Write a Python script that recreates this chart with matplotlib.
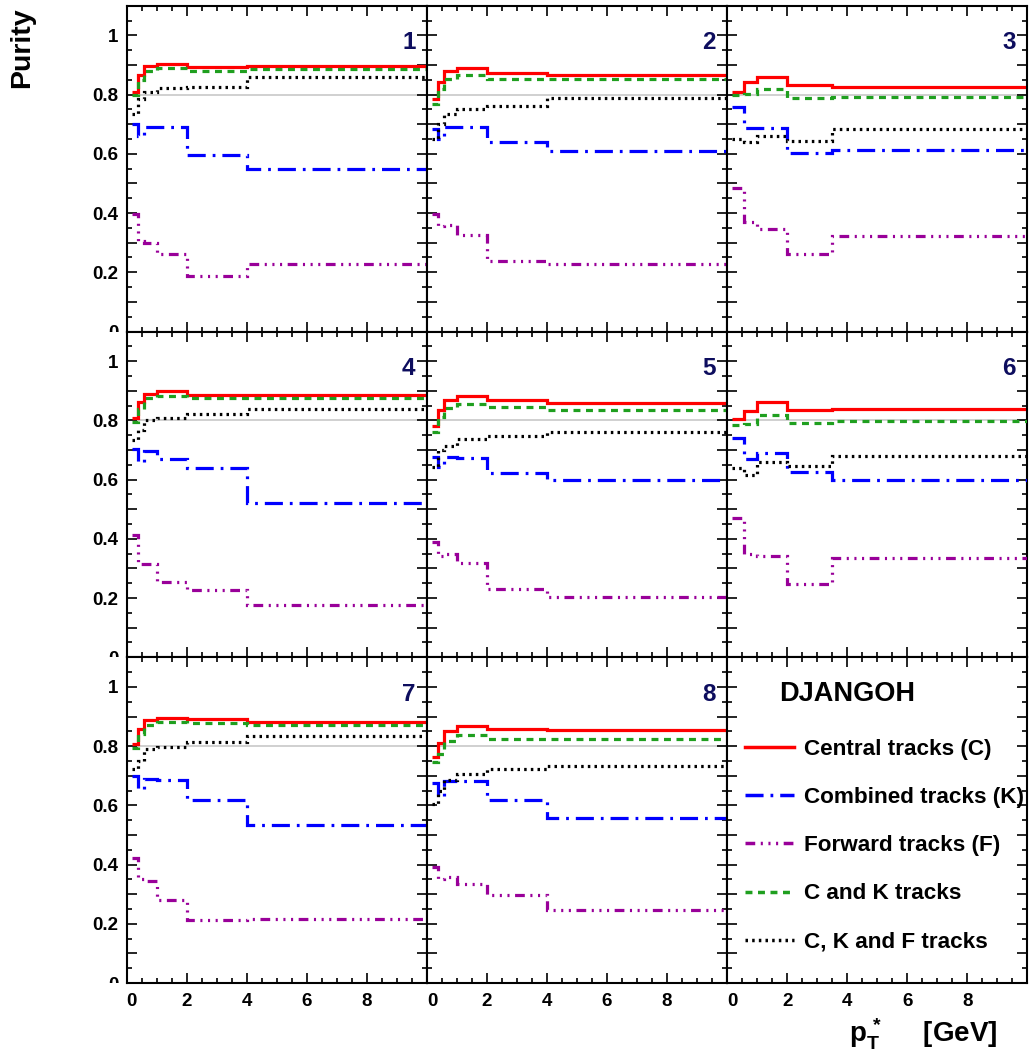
import matplotlib
matplotlib.use("Agg")
import matplotlib.pyplot as plt
from matplotlib.lines import Line2D
from matplotlib.ticker import MultipleLocator, FixedLocator, FixedFormatter
from matplotlib.transforms import Bbox, TransformedBbox

plt.rcParams["font.family"] = ["Liberation Sans", "DejaVu Sans"]
plt.rcParams["font.weight"] = "bold"
plt.rcParams["mathtext.fontset"] = "custom"
plt.rcParams["mathtext.rm"] = "Liberation Sans:bold"
plt.rcParams["mathtext.it"] = "Liberation Sans:bold"
plt.rcParams["mathtext.bf"] = "Liberation Sans:bold"
plt.rcParams["lines.scale_dashes"] = False

# bin edges in pT* [GeV]
edges_fine = [0.17, 0.37, 0.57, 1.0, 2.0, 4.0, 10.0]
edges_coarse = [0.17, 0.57, 1.0, 2.0, 3.5, 10.0]
panel_edges = [edges_fine, edges_fine, edges_coarse,
               edges_fine, edges_fine, edges_coarse,
               edges_fine, edges_fine]
panel_labels = ["1", "2", "3", "4", "5", "6", "7", "8"]

central = [
    [0.808, 0.867, 0.895, 0.904, 0.893, 0.897],
    [0.785, 0.844, 0.881, 0.891, 0.874, 0.866],
    [0.810, 0.844, 0.859, 0.833, 0.825],
    [0.808, 0.862, 0.890, 0.900, 0.887, 0.887],
    [0.780, 0.834, 0.870, 0.883, 0.868, 0.857],
    [0.806, 0.831, 0.861, 0.836, 0.840],
    [0.808, 0.859, 0.889, 0.896, 0.893, 0.881],
    [0.765, 0.810, 0.851, 0.868, 0.859, 0.853],
]
combined = [
    [0.701, 0.661, 0.690, 0.689, 0.597, 0.550],
    [0.684, 0.650, 0.690, 0.692, 0.641, 0.609],
    [0.759, 0.686, 0.686, 0.602, 0.614],
    [0.702, 0.659, 0.698, 0.670, 0.640, 0.521],
    [0.676, 0.642, 0.676, 0.673, 0.623, 0.597],
    [0.740, 0.670, 0.689, 0.627, 0.597],
    [0.700, 0.655, 0.689, 0.686, 0.618, 0.534],
    [0.675, 0.633, 0.684, 0.684, 0.618, 0.557],
]
forward = [
    [0.396, 0.305, 0.300, 0.263, 0.189, 0.229],
    [0.396, 0.356, 0.360, 0.326, 0.237, 0.229],
    [0.483, 0.370, 0.345, 0.263, 0.324],
    [0.414, 0.314, 0.314, 0.255, 0.226, 0.176],
    [0.390, 0.342, 0.350, 0.317, 0.232, 0.204],
    [0.472, 0.350, 0.342, 0.246, 0.334],
    [0.421, 0.350, 0.345, 0.282, 0.212, 0.215],
    [0.392, 0.350, 0.358, 0.335, 0.297, 0.248],
]
c_and_k = [
    [0.797, 0.848, 0.881, 0.891, 0.881, 0.887],
    [0.768, 0.820, 0.851, 0.867, 0.853, 0.853],
    [0.797, 0.802, 0.819, 0.788, 0.791],
    [0.794, 0.840, 0.874, 0.883, 0.874, 0.874],
    [0.761, 0.811, 0.842, 0.854, 0.845, 0.836],
    [0.783, 0.787, 0.817, 0.791, 0.798],
    [0.794, 0.842, 0.870, 0.881, 0.878, 0.872],
    [0.748, 0.774, 0.817, 0.836, 0.825, 0.824],
]
c_k_f = [
    [0.735, 0.785, 0.810, 0.823, 0.825, 0.859],
    [0.650, 0.701, 0.735, 0.752, 0.761, 0.788],
    [0.650, 0.641, 0.661, 0.644, 0.684],
    [0.732, 0.766, 0.800, 0.809, 0.820, 0.838],
    [0.642, 0.700, 0.715, 0.738, 0.746, 0.761],
    [0.640, 0.617, 0.661, 0.645, 0.679],
    [0.723, 0.751, 0.791, 0.797, 0.814, 0.833],
    [0.604, 0.650, 0.686, 0.706, 0.723, 0.734],
]
reference_level = 0.8

series = [
    (central, "Central tracks (C)", "#ff0000", "-"),
    (combined, "Combined tracks (K)", "#0000ff", (0, (13, 5, 2, 5))),
    (forward, "Forward tracks (F)", "#990099",
     (0, (7, 4, 1.5, 4, 1.5, 4, 1.5, 4))),
    (c_and_k, "C and K tracks", "#1f9f1f", (0, (5, 4))),
    (c_k_f, "C, K and F tracks", "black", (0, (1.8, 3))),
]
draw_order = [4, 1, 2, 3, 0]

W, H = 1033, 1064
fig = plt.figure(figsize=(W / 100, H / 100), dpi=100)

left_px, panel_w = 126.7, 300.2
top_px, panel_h = 5.7, 325.8

axes = []
for row in range(3):
    for col in range(3):
        x0 = (left_px + col * panel_w) / W
        y0 = 1 - (top_px + (row + 1) * panel_h) / H
        ax = fig.add_axes([x0, y0, panel_w / W, panel_h / H])
        axes.append(ax)

yt_major = [round(0.1 * i, 1) for i in range(12)]
yt_labels = ["0" if v == 0 else ("1" if v == 1.0 else
             (f"{v:.1f}" if round(v * 10) % 2 == 0 else "")) for v in yt_major]

for i, ax in enumerate(axes):
    row, col = divmod(i, 3)
    ax.set_xlim(0, 10)
    ax.set_ylim(0, 1.1)
    for s in ax.spines.values():
        s.set_linewidth(1.5)
    ax.xaxis.set_major_locator(MultipleLocator(2))
    ax.xaxis.set_minor_locator(MultipleLocator(0.5))
    ax.yaxis.set_major_locator(FixedLocator(yt_major))
    ax.yaxis.set_minor_locator(MultipleLocator(0.05))
    ax.tick_params(which="both", direction="in", top=True, right=True,
                   width=1.2, labelsize=13.5)
    ax.tick_params(which="major", length=7)
    ax.tick_params(which="minor", length=3.5)
    ax.tick_params(axis="y", pad=6)
    ax.tick_params(axis="x", pad=7)

    if col == 0:
        ax.yaxis.set_major_formatter(FixedFormatter(yt_labels))
    else:
        ax.tick_params(axis="y", labelleft=False)
    if row == 2:
        ax.xaxis.set_major_formatter(FixedFormatter(["0", "2", "4", "6", "8", ""]))
        ax.set_xticks([0, 2, 4, 6, 8, 10])
    else:
        ax.tick_params(axis="x", labelbottom=False)

    if i < 8:
        ax.axhline(reference_level, color="#c8c8c8", lw=1.2, zorder=1)
        edges = panel_edges[i]
        for k in draw_order:
            data, label, color, ls = series[k]
            ax.stairs(data[i], edges, baseline=None, color=color,
                      linestyle=ls, lw=2.3, zorder=2 + k)
        ax.text(9.62, 0.975, panel_labels[i], ha="right", va="center",
                fontsize=17.5, fontweight="bold", color="#0d0d5e")

# legend panel
lax = axes[8]
lax.text(0.173, 0.886, "DJANGOH", transform=lax.transAxes, ha="left",
         va="center", fontsize=19.5, fontweight="bold")
handles = [Line2D([], [], color=c, linestyle=ls, lw=2.5)
           for _, _, c, ls in series]
labels = [lab for _, lab, _, _ in series]
lax.legend(handles, labels, loc="upper left", bbox_to_anchor=(0.058, 0.75),
           frameon=False, fontsize=16.2, handlelength=2.2, handletextpad=0.44,
           labelspacing=1.21, borderpad=0, borderaxespad=0)

fig.text(22 / W, 1 - 7 / H, "Purity", rotation=90, ha="center", va="top",
         fontsize=20.5, fontweight="bold")
fig.text(997 / W, 1 - 1043 / H, r"$\mathrm{p}_{\mathrm{T}}^{\,*}$     [GeV]",
         ha="right", va="baseline", fontsize=20, fontweight="bold")

fig.canvas.draw()
for i, ax in enumerate(axes):
    row, col = divmod(i, 3)
    bb = ax.get_position()
    if col == 0:
        clip = TransformedBbox(Bbox.from_extents(0, bb.y0, 1, 1), fig.transFigure)
        for t in ax.get_yticklabels():
            t.set_clip_box(clip)
            t.set_clip_on(True)
    if row == 2:
        xl = ax.get_xticklabels()
        if xl:
            xl[0].set_horizontalalignment("left")

fig.savefig("out.png", dpi=100)
